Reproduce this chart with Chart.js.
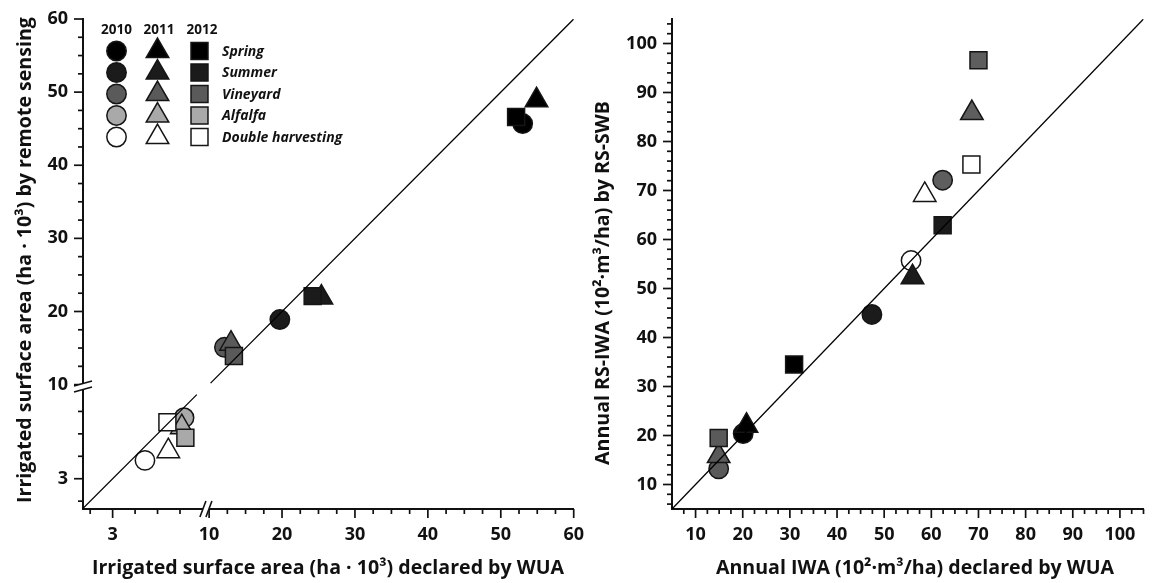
<!DOCTYPE html>
<html>
<head>
<meta charset="utf-8">
<script src="https://cdn.jsdelivr.net/npm/chart.js@4.4.1/dist/chart.umd.min.js"></script>
<style>
  html, body { margin: 0; padding: 0; background: #fff; }
  #wrap { position: relative; width: 1158px; height: 583px; overflow: hidden; }
  #leftChart { position: absolute; left: 0; top: 0; }
  #rightChart { position: absolute; left: 590px; top: 0; }
</style>
</head>
<body>
<div id="wrap">
  <canvas id="leftChart" width="590" height="583"></canvas>
  <canvas id="rightChart" width="568" height="583"></canvas>
</div>
<script>
const categories = ['Spring', 'Summer', 'Vineyard', 'Alfalfa', 'Double harvesting'];
const years = ['2010', '2011', '2012'];

// irrigated surface area (ha·10³): declared by WUA (x) / remote sensing (y)
const areaWua2010 = [53.0, 19.7, 12.1, 6.18, 4.44];
const areaRs2010  = [45.7, 18.9, 15.1, 5.72, 3.82];
const areaWua2011 = [54.9, 25.4, 13.0, 6.08, 5.48];
const areaRs2011  = [48.9, 21.9, 15.6, 5.30, 4.23];
const areaWua2012 = [52.1, 24.2, 13.4, 6.24, 5.44];
const areaRs2012  = [46.6, 22.1, 13.9, 4.83, 5.52];

// annual IWA (10²·m³/ha): declared by WUA (x) / RS-SWB (y)
const iwaWua2010 = [20.1, 47.4, 14.9, 62.4, 55.7];
const iwaRs2010  = [20.4, 44.7, 13.2, 72.1, 55.7];
const iwaWua2011 = [20.8, 56.0, 14.9, 68.6, 58.6];
const iwaRs2011  = [22.0, 52.3, 15.8, 85.8, 69.1];
const iwaWua2012 = [30.9, 62.4, 14.9, 70.0, 68.5];
const iwaRs2012  = [34.5, 62.9, 19.5, 96.6, 75.3];

// 1:1 lines
const oneToOneLow = [1.65, 6.75];
const oneToOneHigh = [10.2, 60];
const oneToOneIwa = [5, 105];

// axis ranges and tick labels
const areaLowRange = [1.68, 7.2];
const areaLowRangeY = [1.65, 7.0];
const areaHighRange = [9.7, 60];
const areaHighRangeY = [9.4, 60];
const iwaRange = [5, 105];
const areaLowTicks = [3];
const areaHighTicks = [10, 20, 30, 40, 50, 60];
const iwaTicks = [10, 20, 30, 40, 50, 60, 70, 80, 90, 100];
const areaSplit = 8;

const shapes = ['circle', 'triangle', 'rect'];
const shapeRadius = { circle: 9.7, triangle: 13, rect: 12 };
const leftColors = ['#000000', '#1b1b1b', '#5a5a5a', '#a9a9a9', '#ffffff'];
const rightColors = ['#000000', '#1b1b1b', '#5a5a5a', '#5e5e5e', '#ffffff'];
const edge = '#151515';
const FONT = "'Open Sans', sans-serif";

function steps(a, b, st, skip) {
  const out = [];
  for (let v = a; v <= b + 1e-9; v += st) {
    if (!skip.some(s => Math.abs(s - v) < 1e-6)) out.push(+v.toFixed(2));
  }
  return out;
}

function drawShape(ctx, style, x, y, r, fill) {
  ctx.beginPath();
  if (style === 'circle') {
    ctx.arc(x, y, r, 0, Math.PI * 2);
  } else if (style === 'triangle') {
    const a = 2 * Math.PI / 3;
    ctx.moveTo(x, y - r);
    ctx.lineTo(x + Math.sin(a) * r, y - Math.cos(a) * r);
    ctx.lineTo(x - Math.sin(a) * r, y - Math.cos(a) * r);
  } else {
    const s = Math.SQRT1_2 * r;
    ctx.rect(x - s, y - s, 2 * s, 2 * s);
  }
  ctx.closePath();
  ctx.fillStyle = fill;
  ctx.fill();
  ctx.lineWidth = 1.5;
  ctx.strokeStyle = edge;
  ctx.stroke();
}

function scatterSet(xs, ys, yearIdx, colors, keep, xId, yId) {
  const pts = xs.map((x, i) => ({ x: x, y: ys[i], c: i })).filter(p => keep(p.x));
  const style = shapes[yearIdx];
  return {
    type: 'scatter',
    label: years[yearIdx],
    data: pts.map(p => ({ x: p.x, y: p.y })),
    pointStyle: style,
    pointRadius: shapeRadius[style],
    pointBackgroundColor: pts.map(p => colors[p.c]),
    pointBorderColor: edge,
    pointBorderWidth: 1.5,
    xAxisID: xId,
    yAxisID: yId,
    order: 3 - yearIdx
  };
}

function lineSet(ends, xId, yId) {
  return {
    type: 'line',
    data: ends.map(v => ({ x: v, y: v })),
    borderColor: '#000',
    borderWidth: 1.3,
    pointRadius: 0,
    fill: false,
    xAxisID: xId,
    yAxisID: yId,
    order: -1
  };
}

const tickFont = { family: FONT, size: 18, weight: 'bold' };

function axis(pos, range, labels, extra) {
  return Object.assign({
    type: 'linear',
    position: pos,
    min: range[0],
    max: range[1],
    afterBuildTicks: s => { s.ticks = labels.map(v => ({ value: v })); },
    afterFit: s => { if (pos === 'left') s.width = 83; else s.height = 74; },
    ticks: { autoSkip: false, maxRotation: 0, padding: 6, color: '#111', font: tickFont },
    grid: { drawOnChartArea: false, color: 'rgba(0,0,0,0)', tickLength: 9 },
    border: { color: '#111', width: 2 }
  }, extra || {});
}

function tickMarks(spec) {
  return {
    id: 'tickMarks',
    afterDraw(chart) {
      const ctx = chart.ctx;
      ctx.save();
      ctx.strokeStyle = '#111';
      ctx.lineWidth = 1.7;
      Object.keys(spec).forEach(id => {
        const s = chart.scales[id];
        [[spec[id].major, 9], [spec[id].minor, 5]].forEach(([vals, len]) => {
          vals.forEach(v => {
            const p = s.getPixelForValue(v);
            ctx.beginPath();
            if (s.isHorizontal()) { ctx.moveTo(p, s.top); ctx.lineTo(p, s.top + len); }
            else { ctx.moveTo(s.right, p); ctx.lineTo(s.right - len, p); }
            ctx.stroke();
          });
        });
      });
      ctx.restore();
    }
  };
}

function axisTitles(list) {
  return {
    id: 'axisTitles',
    afterDraw(chart) {
      const ctx = chart.ctx;
      ctx.save();
      ctx.fillStyle = '#111';
      ctx.font = 'bold 19.6px ' + FONT;
      ctx.textAlign = 'center';
      ctx.textBaseline = 'middle';
      list.forEach(t => {
        ctx.save();
        ctx.translate(t.x, t.y);
        if (t.rot) ctx.rotate(-Math.PI / 2);
        ctx.fillText(t.text, 0, 0);
        ctx.restore();
      });
      ctx.restore();
    }
  };
}

const axisBreaks = {
  id: 'axisBreaks',
  afterDraw(chart) {
    const ctx = chart.ctx;
    const area = chart.chartArea;
    const yb = chart.scales.yLow.top;
    const xb = chart.scales.xLow.right;
    ctx.save();
    // y axis break
    ctx.fillStyle = '#fff';
    ctx.beginPath();
    ctx.moveTo(area.left - 9, yb + 3); ctx.lineTo(area.left + 9, yb - 2);
    ctx.lineTo(area.left + 9, yb - 8); ctx.lineTo(area.left - 9, yb - 3);
    ctx.closePath(); ctx.fill();
    ctx.strokeStyle = '#111';
    ctx.lineWidth = 1.6;
    ctx.beginPath();
    ctx.moveTo(area.left - 9, yb + 3); ctx.lineTo(area.left + 9, yb - 2);
    ctx.moveTo(area.left - 9, yb - 3); ctx.lineTo(area.left + 9, yb - 8);
    ctx.stroke();
    // x axis break
    const y = area.bottom;
    ctx.beginPath();
    ctx.moveTo(xb - 7, y + 8); ctx.lineTo(xb - 1, y - 8);
    ctx.lineTo(xb + 5, y - 8); ctx.lineTo(xb - 1, y + 8);
    ctx.closePath(); ctx.fill();
    ctx.beginPath();
    ctx.moveTo(xb - 7, y + 8); ctx.lineTo(xb - 1, y - 8);
    ctx.moveTo(xb - 1, y + 8); ctx.lineTo(xb + 5, y - 8);
    ctx.stroke();
    ctx.restore();
  }
};

const yearLegend = {
  id: 'yearLegend',
  afterDraw(chart) {
    const ctx = chart.ctx;
    const colX = [116.5, 157.5, 199.5];
    const rowY = [51, 72.5, 94, 115.5, 137];
    ctx.save();
    ctx.fillStyle = '#111';
    ctx.font = 'bold 13.5px ' + FONT;
    ctx.textAlign = 'center';
    ctx.textBaseline = 'middle';
    years.forEach((yr, i) => ctx.fillText(yr, colX[i] + (i === 1 ? 1.5 : i === 2 ? 2.5 : 0), 30));
    categories.forEach((cat, r) => {
      shapes.forEach((st, i) => drawShape(ctx, st, colX[i], rowY[r], shapeRadius[st], leftColors[r]));
      ctx.fillStyle = '#111';
      ctx.font = 'italic bold 14px ' + FONT;
      ctx.textAlign = 'left';
      ctx.fillText(cat, 222, rowY[r] + 1);
    });
    ctx.restore();
  }
};

const areaX = [areaWua2010, areaWua2011, areaWua2012];
const areaY = [areaRs2010, areaRs2011, areaRs2012];
const iwaX = [iwaWua2010, iwaWua2011, iwaWua2012];
const iwaY = [iwaRs2010, iwaRs2011, iwaRs2012];

const leftSets = [lineSet(oneToOneLow, 'xLow', 'yLow'), lineSet(oneToOneHigh, 'xUp', 'yUp')];
years.forEach((yr, k) => {
  leftSets.push(scatterSet(areaX[k], areaY[k], k, leftColors, v => v >= areaSplit, 'xUp', 'yUp'));
  leftSets.push(scatterSet(areaX[k], areaY[k], k, leftColors, v => v < areaSplit, 'xLow', 'yLow'));
});

const common = {
  responsive: false,
  animation: false,
  events: [],
  plugins: { legend: { display: false }, tooltip: { enabled: false } }
};

new Chart(document.getElementById('leftChart'), {
  type: 'scatter',
  data: { datasets: leftSets },
  options: Object.assign({}, common, {
    layout: { padding: { top: 19, right: 16, left: 0, bottom: 0 } },
    scales: {
      xLow: axis('bottom', areaLowRange, areaLowTicks, { stack: 'x', stackWeight: 124, weight: 0 }),
      xUp: axis('bottom', areaHighRange, areaHighTicks, { stack: 'x', stackWeight: 367, weight: 1 }),
      yLow: axis('left', areaLowRangeY, areaLowTicks, { stack: 'y', stackWeight: 120, weight: 0 }),
      yUp: axis('left', areaHighRangeY, areaHighTicks, { stack: 'y', stackWeight: 370, weight: 1 })
    }
  }),
  plugins: [
    tickMarks({
      xLow: { major: areaLowTicks, minor: [2, 4, 5, 6] },
      xUp: { major: areaHighTicks, minor: steps(10, 60, 2.5, areaHighTicks) },
      yLow: { major: areaLowTicks, minor: [2, 4, 5, 6] },
      yUp: { major: areaHighTicks, minor: steps(10, 60, 2.5, areaHighTicks) }
    }),
    axisBreaks,
    yearLegend,
    axisTitles([
      { text: 'Irrigated surface area (ha · 10³) declared by WUA', x: 328, y: 568 },
      { text: 'Irrigated surface area (ha · 10³) by remote sensing', x: 25, y: 260, rot: true }
    ])
  ]
});

const rightSets = [lineSet(oneToOneIwa, 'x', 'y')];
years.forEach((yr, k) => {
  rightSets.push(scatterSet(iwaX[k], iwaY[k], k, rightColors, () => true, 'x', 'y'));
});

new Chart(document.getElementById('rightChart'), {
  type: 'scatter',
  data: { datasets: rightSets },
  options: Object.assign({}, common, {
    layout: { padding: { top: 19, right: 0, left: 0, bottom: 0 } },
    scales: {
      x: axis('bottom', iwaRange, iwaTicks),
      y: axis('left', iwaRange, iwaTicks, { afterFit: s => { s.width = 82; } })
    }
  }),
  plugins: [
    tickMarks({
      x: { major: iwaTicks, minor: steps(7.5, 105, 2.5, iwaTicks) },
      y: { major: iwaTicks, minor: steps(6, 104, 2, iwaTicks) }
    }),
    axisTitles([
      { text: 'Annual IWA (10²·m³/ha) declared by WUA', x: 325, y: 568 },
      { text: 'Annual RS-IWA (10²·m³/ha) by RS-SWB', x: 13, y: 283, rot: true }
    ])
  ]
});
</script>
</body>
</html>
